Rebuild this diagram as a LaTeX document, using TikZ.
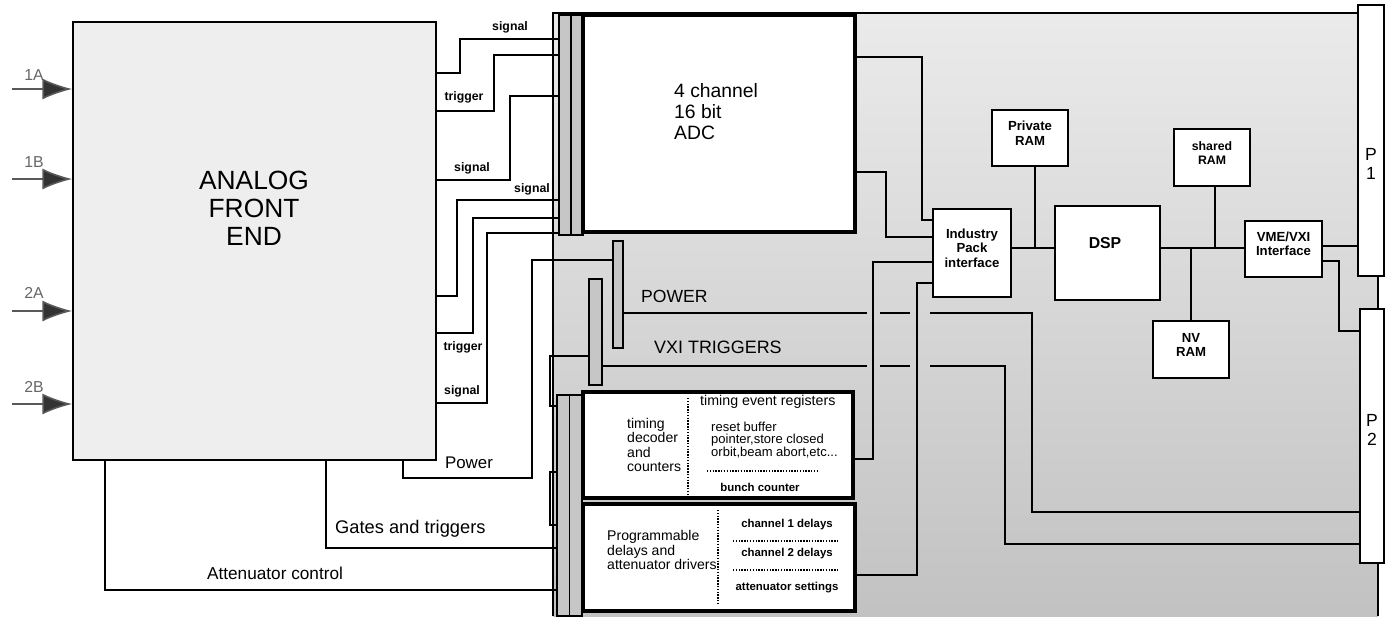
\documentclass[tikz,border=0pt]{standalone}
\usepackage{fontspec}
\setmainfont{Liberation Sans}
\usetikzlibrary{arrows.meta,fit,positioning}

\begin{document}
\begin{tikzpicture}[x=0.02cm, y=-0.02cm,
  box/.style={draw, line width=1.2pt, fill=white, inner sep=0pt, align=left},
  heavybox/.style={box, line width=1.9pt},
  strip/.style={draw, line width=0.8pt, fill=gray!45, inner sep=0pt},
  wire/.style={line width=1.6pt},
  inarrow/.style={line width=0.9pt, draw=black!65, -{Latex[length=17pt, width=12pt, fill=black!80]}},
  tag/.style={font=\bfseries\fontsize{7}{8}\selectfont},
  small/.style={font=\bfseries\fontsize{6.5}{7.5}\selectfont},
  divider/.style={line width=0.6pt, dash pattern=on 0.8pt off 0.8pt}]

\useasboundingbox (0,0) rectangle (1388,616);

% board
\shade[top color=gray!16, bottom color=gray!48] (553,13) rectangle (1378,616);
\draw[line width=0.8pt] (553,616) -- (553,13) -- (1378,13) -- (1378,616);

% analog front end
\node[box, fill=gray!13, line width=1pt, fit={(73,22) (436,460)}] (afe) {};
\node[align=center, font=\fontsize{15}{16}\selectfont] (afetext) at (254,208) {ANALOG\\FRONT\\END};

\foreach \nm/\yy/\ly in {1A/89/75, 1B/179/162, 2A/311/293, 2B/404/387} {
  \coordinate (in\nm) at (12,\yy);
  \node[text=black!60, font=\fontsize{9}{10}\selectfont] (lbl\nm) at (34,\ly) {\nm};
  \draw[inarrow] (in\nm) -- (afe.west |- in\nm);
}

% connectors
\node[strip, fit={(559,15) (583,235)}] (stripa) {};
\draw[line width=0.6pt] (stripa.north) -- (stripa.south);
\node[strip, fit={(557,395) (582,616)}] (stripb) {};
\draw[line width=0.6pt] (stripb.north) -- (stripb.south);
\node[strip, fit={(613,241) (623,348)}] (strippwr) {};
\node[strip, fit={(589,279) (602,385)}] (stripvxi) {};

% ADC
\node[heavybox, fit={(583,15) (855,232)}] (adc) {};
\node[anchor=west, align=left, font=\fontsize{11}{12}\selectfont] (adctext) at (668,112) {4 channel\\16 bit\\ADC};

% signals and triggers
\foreach \ya/\xb/\yb in {73/460/39, 111/494/55, 180/510/96, 296/457/200, 333/473/218, 403/487/233}
  \draw[wire] (afe.east |- 0,\ya) -| (\xb,\yb) -- (stripa.west |- 0,\yb);
\node[tag] (sig1) at (510,27) {signal};
\node[tag] (trg1) at (464,97) {trigger};
\node[tag] (sig2) at (472,168) {signal};
\node[tag] (sig3) at (532,189) {signal};
\node[tag] (trg2) at (463,347) {trigger};
\node[tag] (sig4) at (462,391) {signal};

\draw[wire] (afe.south -| 403,0) |- (532,478) |- (strippwr.west |- 0,260);
\node[font=\fontsize{9.6}{11}\selectfont] (pwrlbl) at (469,463) {Power};
\draw[wire] (afe.south -| 326,0) |- (stripb.west |- 0,548);
\node[anchor=west, font=\fontsize{10.4}{12}\selectfont] (gatelbl) at (329,529) {Gates and triggers};
\draw[wire] (afe.south -| 105,0) |- (stripb.west |- 0,590);
\node[font=\fontsize{9.8}{12}\selectfont] (attlbl) at (275,573) {Attenuator control};

\draw[wire] (stripvxi.west |- 0,356) -| (550,406) -- (stripb.west |- 0,406);
\draw[wire] (stripb.west |- 0,472) -| (550,525) -- (stripb.west |- 0,525);

% timing
\node[heavybox, fit={(583,392) (853,498)}] (timing) {};
\draw[divider] (688,398) -- (688,495);
\node[anchor=west, align=left, font=\fontsize{8}{8.2}\selectfont] (tdec) at (621,445) {timing\\decoder\\and\\counters};
\node[anchor=west, font=\fontsize{8.1}{9}\selectfont] (tevt) at (694,402) {timing event registers};
\node[anchor=west, align=left, font=\fontsize{7.4}{7.2}\selectfont] (treg) at (705,440) {reset buffer\\pointer,store closed\\orbit,beam abort,etc...};
\draw[divider] (707,471) -- (818,471);
\node[small] (bunch) at (760,487) {bunch counter};

\node[heavybox, fit={(583,504) (855,611)}] (progdly) {};
\draw[divider] (718,510) -- (718,605);
\node[anchor=west, align=left, font=\fontsize{8}{8.3}\selectfont] (pdtext) at (601,550) {Programmable\\delays and\\attenuator drivers};
\node[small] (ch1) at (787,525) {channel 1 delays};
\draw[divider] (733,541) -- (839,541);
\node[small] (ch2) at (787,554) {channel 2 delays};
\draw[divider] (733,570) -- (839,570);
\node[small] (attset) at (787,588) {attenuator settings};

% buses
\node[anchor=west, font=\fontsize{10}{12}\selectfont] (pwrbus) at (635,296) {POWER};
\node[anchor=west, font=\fontsize{10.2}{12}\selectfont] (vxibus) at (648,347) {VXI TRIGGERS};

% processor side
\node[box, fit={(933,209) (1011,297)}, font=\bfseries\fontsize{7.5}{8.2}\selectfont] (ipif) {Industry\\Pack\\interface};
\node[box, fit={(1055,206) (1160,300)}] (dsp) {};
\node[font=\bfseries\fontsize{9}{10}\selectfont] (dsptxt) at (1105,243) {DSP};
\node[box, fit={(992,110) (1068,166)}, font=\bfseries\fontsize{7.5}{8}\selectfont] (pram) {Private\\RAM};
\node[box, fit={(1174,129) (1250,186)}, font=\bfseries\fontsize{7}{8}\selectfont] (sram) {shared\\RAM};
\node[box, fit={(1153,321) (1229,378)}, font=\bfseries\fontsize{7.5}{8}\selectfont] (nvram) {NV\\RAM};
\node[box, fit={(1245,221) (1322,277)}, font=\bfseries\fontsize{7.5}{8}\selectfont] (vme) {VME/VXI\\Interface};
\node[box, line width=0.8pt, fit={(1358,5) (1384,276)}] (pone) {};
\node[align=center, font=\fontsize{10}{11}\selectfont] (ponetxt) at (1371,164) {P\\1};
\node[box, line width=0.8pt, align=center, fit={(1360,309) (1384,563)}, font=\fontsize{10}{11}\selectfont] (ptwo) {P\\2};

\draw[wire] (adc.east |- 0,57) -| (922,220) -- (ipif.west |- 0,220);
\draw[wire] (adc.east |- 0,172) -| (886,237) -- (ipif.west |- 0,237);
\draw[wire] (ipif.west |- 0,262) -| (873,459) -- (timing.east |- 0,459);
\draw[wire] (ipif.west |- 0,283) -| (917,575) -- (progdly.east |- 0,575);

% power and triggers jump over the IP lines
\draw[wire] (strippwr.east |- 0,313) -- (867,313) (880,313) -- (910,313) (930,313) -| (1032,512) -- (ptwo.west |- 0,512);
\draw[wire] (stripvxi.east |- 0,366) -- (867,366) (880,366) -- (910,366) (930,366) -| (1005,544) -- (ptwo.west |- 0,544);

\coordinate (busp) at (1035,248);
\coordinate (buss) at (1215,248);
\coordinate (busn) at (1191,248);
\draw[wire] (ipif.east |- busp) -- (dsp.west |- busp);
\draw[wire] (pram.south -| busp) -- (busp);
\draw[wire] (dsp.east |- buss) -- (vme.west |- buss);
\draw[wire] (sram.south -| buss) -- (buss);
\draw[wire] (busn) -- (nvram.north -| busn);
\draw[wire] (vme.east |- 0,246) -- (pone.west |- 0,246);
\draw[wire] (vme.east |- 0,261) -| (1339,331) -- (ptwo.west |- 0,331);

\end{tikzpicture}
\end{document}
